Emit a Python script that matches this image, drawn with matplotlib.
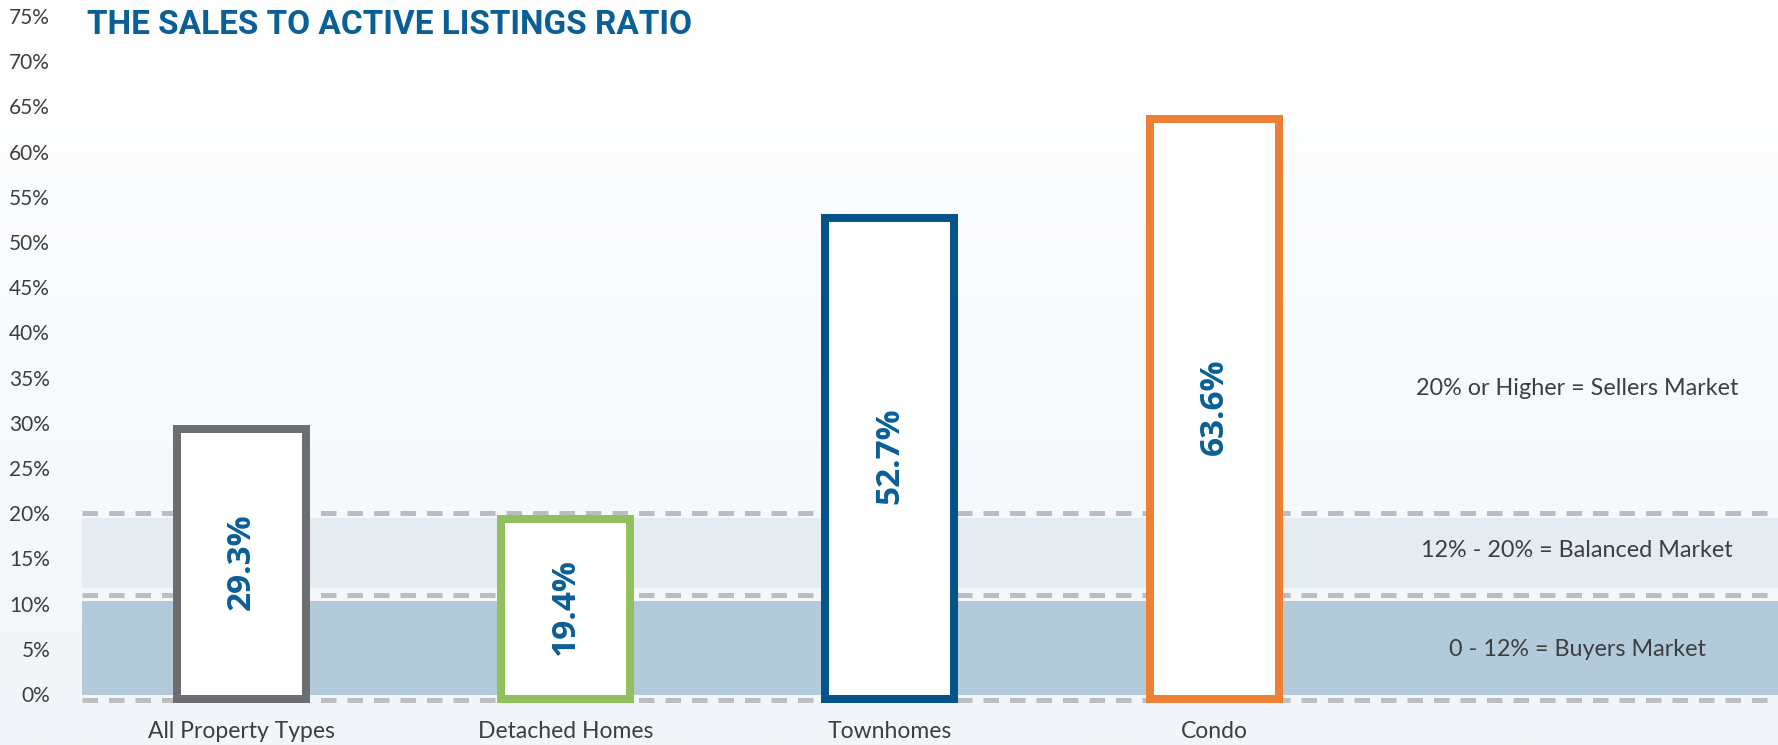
import numpy as np
import matplotlib
matplotlib.use("Agg")
import matplotlib.pyplot as plt
from matplotlib.colors import LinearSegmentedColormap

# Sales-to-active-listings ratio by property type (%)
categories = ["All Property Types", "Detached Homes", "Townhomes", "Condo"]
ratios = [29.3, 19.4, 52.7, 63.6]
bar_colors = ["#6d6e71", "#92c05e", "#04548a", "#ed8035"]

# Market condition thresholds and their labels
band_labels = ["20% or Higher = Sellers Market",
               "12% - 20% = Balanced Market",
               "0 - 12% = Buyers Market"]
ytick_values = list(range(0, 80, 5))
ytick_labels = [f"{v}%" for v in ytick_values]

TITLE = "THE SALES TO ACTIVE LISTINGS RATIO"
BLUE = "#0a5f96"
TEXT = "#3d3e40"

W, H = 1778, 745
fig = plt.figure(figsize=(W / 100, H / 100), dpi=100)

# soft vertical background gradient
bg = fig.add_axes([0, 0, 1, 1], zorder=-10)
grad = np.linspace(0, 1, 256).reshape(-1, 1)
cmap = LinearSegmentedColormap.from_list("bg", ["#ffffff", "#f2f5f9"])
bg.imshow(grad, aspect="auto", cmap=cmap, extent=[0, 1, 0, 1])
bg.set_axis_off()

left = 82 / W
ax = fig.add_axes([left, 35 / H, 1 - left, 710 / H])
ax.set_facecolor("none")
ax.set_xlim(-0.491, 4.739)
ax.set_ylim(-1.77, 76.77)

# market bands
ax.axhspan(11.73, 19.47, color="#e4ebf1", zorder=1, lw=0)
ax.axhspan(-0.11, 10.29, color="#b3cadb", zorder=1, lw=0)
for yv in (20.0, 10.95, -0.66):
    ax.axhline(yv, color="#bcbdc0", lw=3.6, ls=(0, (3.1, 2.2)), zorder=2)

# outlined bars
x = np.arange(len(categories))
base = -0.55
ax.bar(x, [r - base for r in ratios], bottom=base, width=0.398,
       facecolor="white", edgecolor=bar_colors, linewidth=5.76, zorder=3)

for xi, r in zip(x, ratios):
    ax.text(xi, r / 2, f"{r}%", rotation=90, ha="center", va="center",
            color=BLUE, fontsize=24, fontweight="bold", family="Open Sans",
            zorder=4)

# band descriptions on the right
for yv, lab in zip([33.75, 15.9, 4.9], band_labels):
    ax.text(4.12, yv, lab, ha="center", va="center", color=TEXT,
            fontsize=16.8, family="Lato", zorder=4)

ax.set_xticks(x)
ax.set_xticklabels(categories, fontsize=16.5, family="Lato", color=TEXT)
ax.set_yticks(ytick_values)
ax.set_yticklabels(ytick_labels, fontsize=15, family="Lato", color=TEXT)
ax.tick_params(axis="x", length=0, pad=8)
ax.tick_params(axis="y", length=0, pad=23)
for s in ax.spines.values():
    s.set_visible(False)

fig.text(87 / W, 1 - 34 / H, TITLE, ha="left", va="baseline", color=BLUE,
         fontsize=24, fontweight="bold",
         family=["Roboto", "DejaVu Sans"])

fig.savefig("out.png", dpi=100)
